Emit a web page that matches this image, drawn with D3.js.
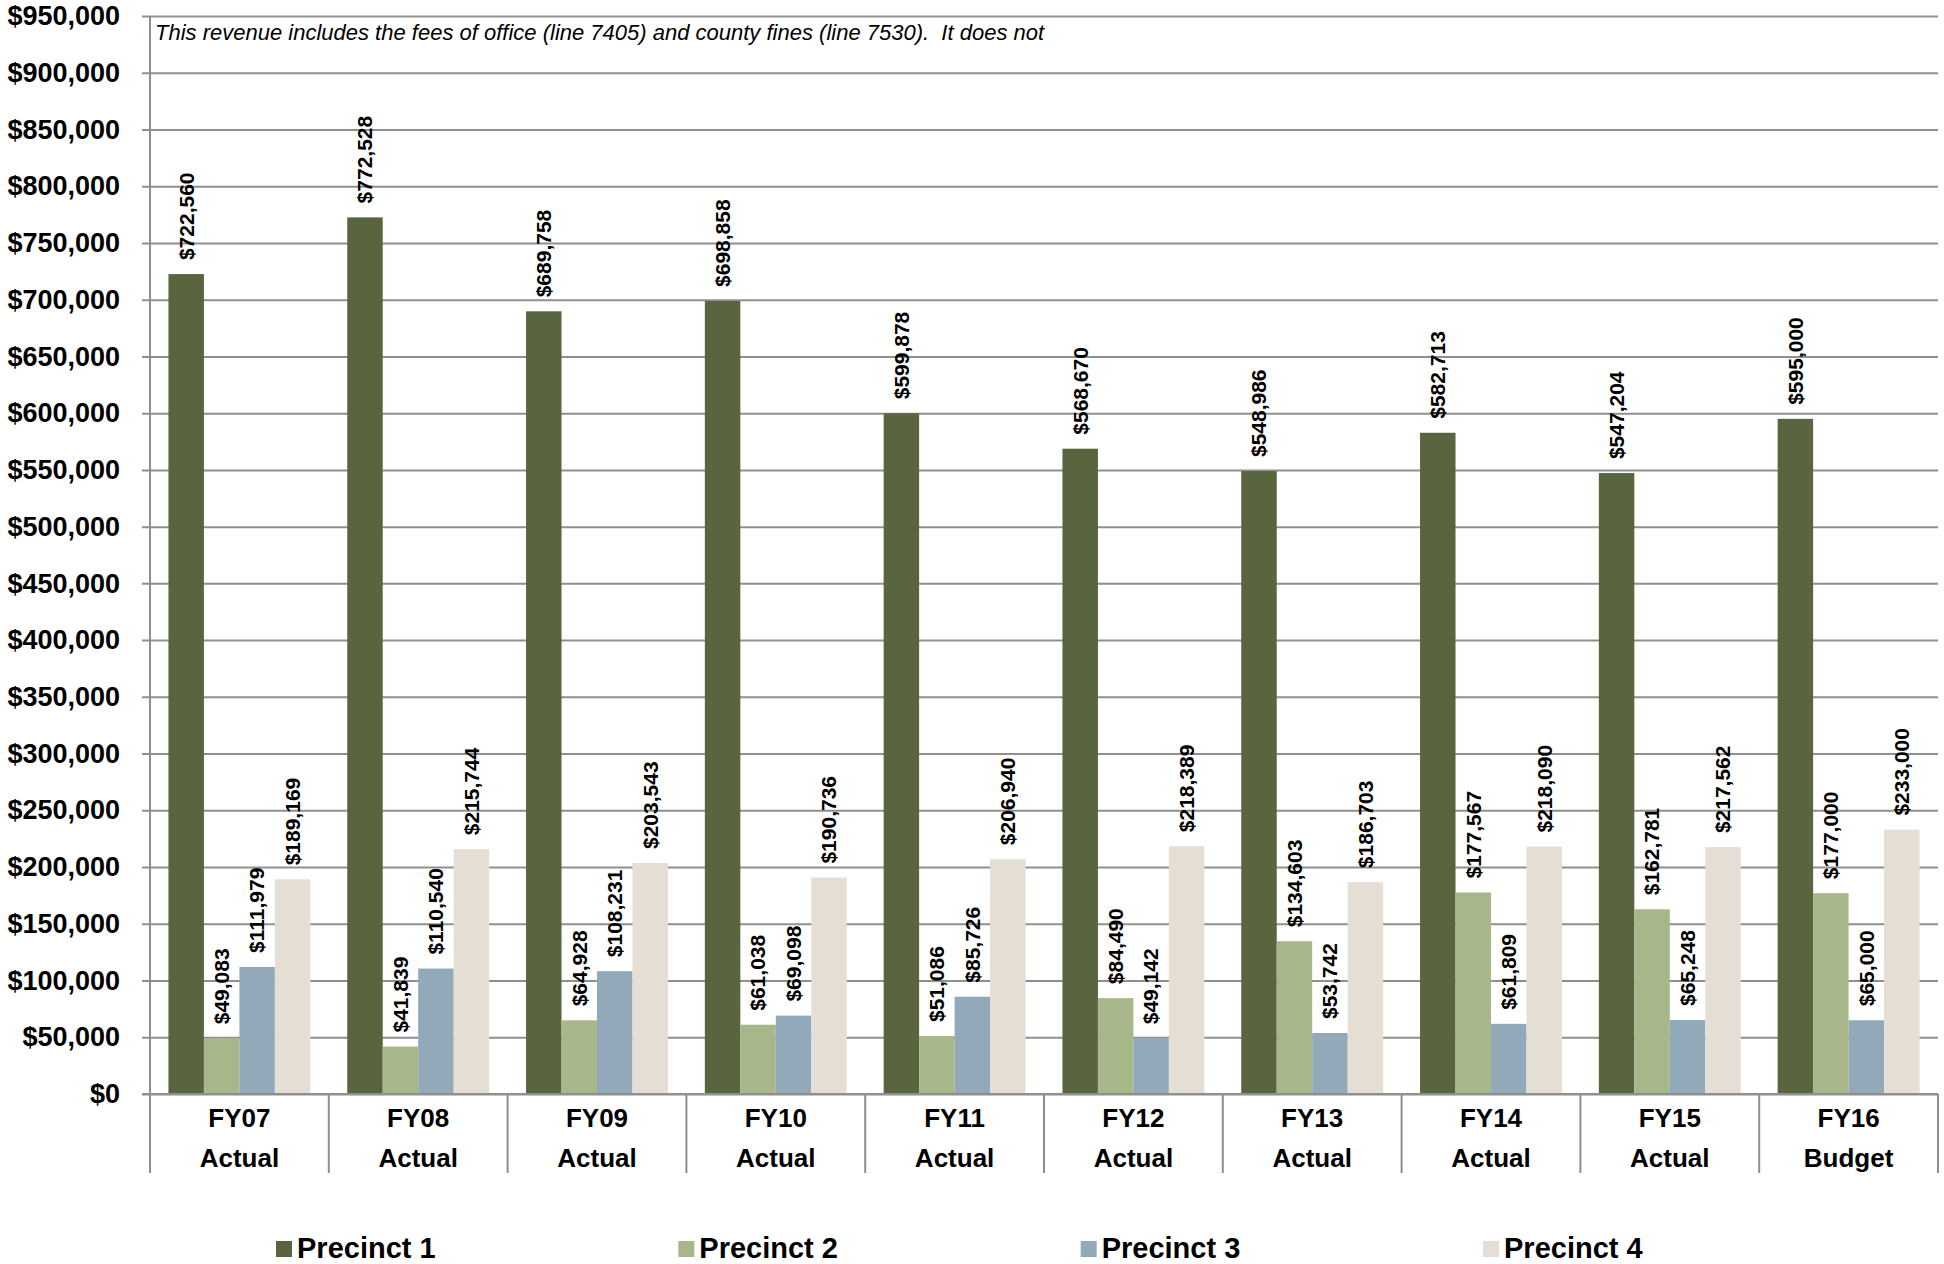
<!DOCTYPE html>
<html>
<head>
<meta charset="utf-8">
<script src="https://cdn.jsdelivr.net/npm/d3@7"></script>
<style>
  html, body { margin: 0; padding: 0; background: #fff; }
  svg { display: block; font-family: "Liberation Sans", Arial, sans-serif; }
</style>
</head>
<body>
<svg id="chart" width="1944" height="1264"></svg>
<script>
// Revenue by precinct, fiscal years 07–16
const fiscalYears = ["FY07", "FY08", "FY09", "FY10", "FY11", "FY12", "FY13", "FY14", "FY15", "FY16"];
const yearTypes   = ["Actual", "Actual", "Actual", "Actual", "Actual", "Actual", "Actual", "Actual", "Actual", "Budget"];
const seriesNames = ["Precinct 1", "Precinct 2", "Precinct 3", "Precinct 4"];

const precinct1 = [722560, 772528, 689758, 698858, 599878, 568670, 548986, 582713, 547204, 595000];
const precinct2 = [49083, 41839, 64928, 61038, 51086, 84490, 134603, 177567, 162781, 177000];
const precinct3 = [111979, 110540, 108231, 69098, 85726, 49142, 53742, 61809, 65248, 65000];
const precinct4 = [189169, 215744, 203543, 190736, 206940, 218389, 186703, 218090, 217562, 233000];

const yTicks = d3.range(0, 950001, 50000);
const note = "This revenue includes the fees of office (line 7405) and county fines (line 7530).  It does not";

const seriesValues = [precinct1, precinct2, precinct3, precinct4];
const colors = ["#58653f", "#a8b789", "#92a9ba", "#e4ded4"];

const svg = d3.select("#chart");
const plot = { left: 150, right: 1938, top: 16, bottom: 1094 };
const gridColor = "#8f8f8f";

const x = d3.scaleBand().domain(fiscalYears).range([plot.left, plot.right]).padding(0);
const xs = d3.scaleBand().domain(d3.range(4)).range([0, x.bandwidth()])
  .paddingInner(0).paddingOuter(0.52);
const y = d3.scaleLinear().domain([0, 950000]).range([plot.bottom, plot.top]);
const fmt = v => "$" + d3.format(",")(v);

// Horizontal gridlines with tick labels
const yAxis = d3.axisLeft(y).tickValues(yTicks).tickFormat(fmt)
  .tickSize(-(plot.right - plot.left)).tickPadding(30);
const gy = svg.append("g").attr("transform", `translate(${plot.left},0)`).call(yAxis);
gy.select(".domain").remove();
gy.selectAll(".tick line").attr("stroke", gridColor).attr("stroke-width", 2)
  .attr("x1", -8);
gy.selectAll(".tick text").attr("fill", "#000").attr("font-size", 27)
  .attr("font-weight", "bold").attr("font-family", "'Liberation Sans', Arial, sans-serif");

// Vertical axis line
svg.append("line").attr("x1", plot.left).attr("x2", plot.left)
  .attr("y1", plot.top).attr("y2", plot.bottom)
  .attr("stroke", gridColor).attr("stroke-width", 2);

// Category separators below the baseline
const sepBottom = 1173;
const boundaries = fiscalYears.map(d => x(d)).concat([plot.right]);
svg.append("g").selectAll("line").data(boundaries).join("line")
  .attr("x1", d => d).attr("x2", d => d)
  .attr("y1", plot.bottom).attr("y2", sepBottom)
  .attr("stroke", gridColor).attr("stroke-width", 2);

// Bars
const rows = [];
fiscalYears.forEach((fy, i) => {
  seriesValues.forEach((vals, s) => rows.push({ fy, s, v: vals[i] }));
});

svg.append("g").selectAll("rect").data(rows).join("rect")
  .attr("x", d => x(d.fy) + xs(d.s))
  .attr("y", d => y(d.v))
  .attr("width", xs.bandwidth())
  .attr("height", d => y(0) - y(d.v))
  .attr("fill", d => colors[d.s]);

// Baseline
svg.append("line").attr("x1", plot.left - 8).attr("x2", plot.right)
  .attr("y1", plot.bottom).attr("y2", plot.bottom)
  .attr("stroke", gridColor).attr("stroke-width", 2);

// Rotated value labels above each bar
svg.append("g").selectAll("text").data(rows).join("text")
  .attr("transform", d => {
    const cx = x(d.fy) + xs(d.s) + xs.bandwidth() / 2;
    return `translate(${cx},${y(d.v) - 14}) rotate(-90)`;
  })
  .attr("dy", "0.35em")
  .attr("text-anchor", "start")
  .attr("font-size", 21)
  .attr("font-weight", "bold")
  .attr("fill", "#000")
  .text(d => fmt(d.v));

// Category labels (two lines)
const cat = svg.append("g").selectAll("g").data(fiscalYears).join("g")
  .attr("transform", d => `translate(${x(d) + x.bandwidth() / 2},0)`);
cat.append("text").attr("y", 1118).attr("dy", "0.35em").attr("text-anchor", "middle")
  .attr("font-size", 26).attr("font-weight", "bold").text(d => d);
cat.append("text").attr("y", 1158).attr("dy", "0.35em").attr("text-anchor", "middle")
  .attr("font-size", 26).attr("font-weight", "bold").text((d, i) => yearTypes[i]);

// Note inside the plot area
svg.append("text").attr("x", 155).attr("y", 40)
  .attr("font-size", 22).attr("font-style", "italic").attr("fill", "#000")
  .style("white-space", "pre")
  .text(note);

// Legend
const legendX = d3.scalePoint().domain(seriesNames).range([276, 1483]);
const leg = svg.append("g").selectAll("g").data(seriesNames).join("g")
  .attr("transform", d => `translate(${legendX(d)},1241)`);
leg.append("rect").attr("width", 16).attr("height", 16).attr("fill", (d, i) => colors[i]);
leg.append("text").attr("x", 21).attr("y", 17).attr("font-size", 29)
  .attr("font-weight", "bold").attr("fill", "#000").text(d => d);
</script>
</body>
</html>
